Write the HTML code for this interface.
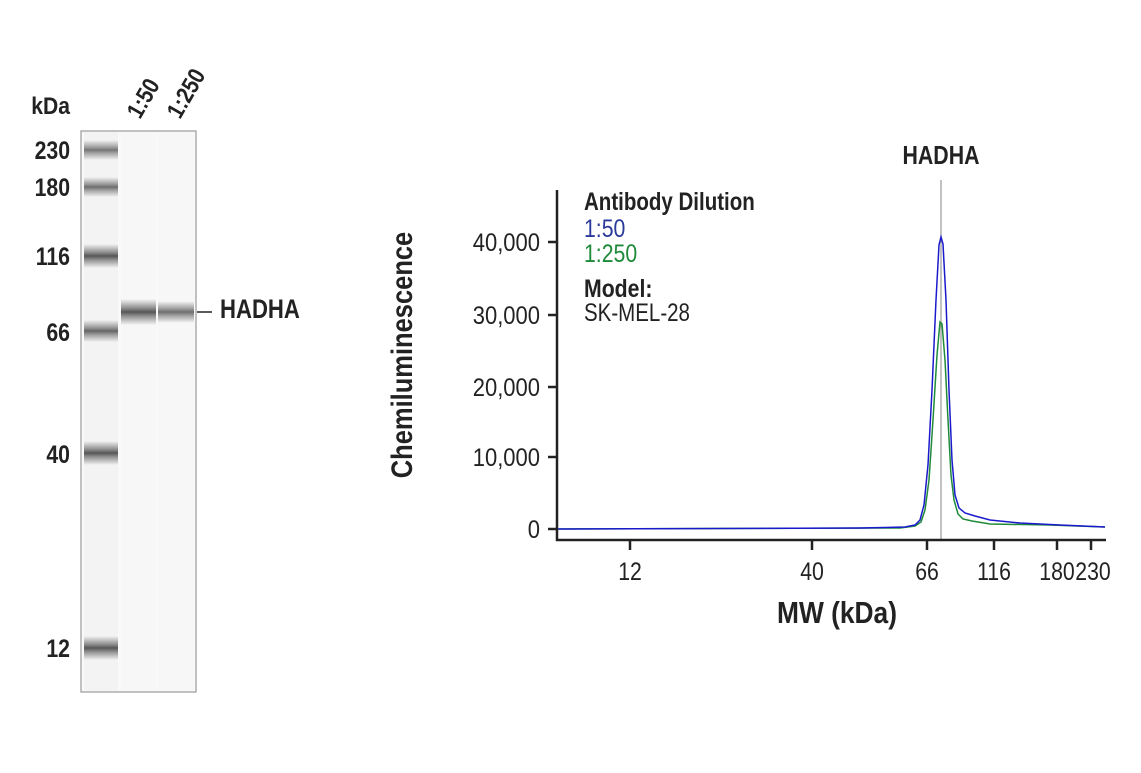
<!DOCTYPE html>
<html><head><style>
body{margin:0;background:#fff;width:1141px;height:768px;overflow:hidden}
</style></head><body>
<svg width="1141" height="768" xmlns="http://www.w3.org/2000/svg" font-family="Liberation Sans, sans-serif">
<defs>
<linearGradient id="b" x1="0" y1="0" x2="0" y2="1">
<stop offset="0" stop-color="#777" stop-opacity="0"/><stop offset="0.3" stop-color="#777" stop-opacity="0.7"/><stop offset="0.5" stop-color="#555"/><stop offset="0.7" stop-color="#777" stop-opacity="0.7"/><stop offset="1" stop-color="#777" stop-opacity="0"/>
</linearGradient>
</defs>
<rect x="81" y="131" width="115" height="561" fill="#f9f9f9" stroke="#999" stroke-width="1.2"/>
<rect x="84" y="132" width="34" height="559" fill="#f3f3f3"/>
<rect x="121" y="132" width="35" height="559" fill="#f7f7f7"/>
<rect x="158" y="132" width="36" height="559" fill="#f7f7f7"/>
<g fill="url(#b)">
<rect x="84" y="140" width="34" height="20" opacity="0.8"/>
<rect x="84" y="177" width="34" height="20" opacity="0.85"/>
<rect x="84" y="244" width="34" height="24"/>
<rect x="84" y="320" width="34" height="22" opacity="0.9"/>
<rect x="84" y="441" width="34" height="24"/>
<rect x="84" y="636" width="34" height="24"/>
<rect x="121" y="299" width="35" height="26"/>
<rect x="158" y="301" width="36" height="22" opacity="0.85"/>
</g>
<g font-weight="bold" font-size="25" fill="#222" text-anchor="end">
<g transform="translate(70,114) scale(.88,1)"><text font-size="24">kDa</text></g>
<g transform="translate(70,159) scale(.85,1)"><text>230</text></g>
<g transform="translate(70,196) scale(.85,1)"><text>180</text></g>
<g transform="translate(70,265) scale(.85,1)"><text>116</text></g>
<g transform="translate(70,341) scale(.85,1)"><text>66</text></g>
<g transform="translate(70,463) scale(.85,1)"><text>40</text></g>
<g transform="translate(70,657) scale(.85,1)"><text>12</text></g>
</g>
<g font-weight="bold" font-size="24" fill="#222">
<g transform="translate(140,120) rotate(-60) scale(.85,1)"><text>1:50</text></g>
<g transform="translate(180,120) rotate(-60) scale(.85,1)"><text>1:250</text></g>
<g transform="translate(220,318) scale(.82,1)"><text font-size="27">HADHA</text></g>
</g>
<line x1="197" y1="312" x2="212" y2="312" stroke="#222" stroke-width="1.5"/>
<line x1="941" y1="180" x2="941" y2="540" stroke="#999" stroke-width="1.2"/>
<g transform="translate(941,164) scale(.82,1)"><text text-anchor="middle" font-weight="bold" font-size="26" fill="#222">HADHA</text></g>
<line x1="557" y1="190" x2="557" y2="541" stroke="#222" stroke-width="2.5"/>
<line x1="556" y1="540" x2="1106" y2="540" stroke="#222" stroke-width="2.5"/>
<g stroke="#222" stroke-width="2.5">
<line x1="548" y1="529" x2="557" y2="529"/><line x1="548" y1="457" x2="557" y2="457"/>
<line x1="548" y1="387" x2="557" y2="387"/><line x1="548" y1="315" x2="557" y2="315"/>
<line x1="548" y1="242" x2="557" y2="242"/>
<line x1="630" y1="540" x2="630" y2="550"/><line x1="812" y1="540" x2="812" y2="550"/>
<line x1="927" y1="540" x2="927" y2="550"/><line x1="994" y1="540" x2="994" y2="550"/>
<line x1="1057" y1="540" x2="1057" y2="550"/><line x1="1091" y1="540" x2="1091" y2="550"/>
</g>
<g font-size="25" fill="#222" text-anchor="end">
<g transform="translate(540,538) scale(.88,1)"><text>0</text></g>
<g transform="translate(540,466) scale(.88,1)"><text>10,000</text></g>
<g transform="translate(540,396) scale(.88,1)"><text>20,000</text></g>
<g transform="translate(540,324) scale(.88,1)"><text>30,000</text></g>
<g transform="translate(540,251) scale(.88,1)"><text>40,000</text></g>
</g>
<g font-size="25" fill="#222" text-anchor="middle">
<g transform="translate(630,580) scale(.85,1)"><text>12</text></g>
<g transform="translate(812,580) scale(.85,1)"><text>40</text></g>
<g transform="translate(927,580) scale(.85,1)"><text>66</text></g>
<g transform="translate(994,580) scale(.85,1)"><text>116</text></g>
<g transform="translate(1057,580) scale(.85,1)"><text>180</text></g>
<g transform="translate(1093,580) scale(.85,1)"><text>230</text></g>
</g>
<g transform="translate(837,623) scale(.85,1)"><text text-anchor="middle" font-weight="bold" font-size="31" fill="#222">MW (kDa)</text></g>
<g transform="translate(412,355) rotate(-90) scale(.85,1)"><text text-anchor="middle" font-weight="bold" font-size="30" fill="#222">Chemiluminescence</text></g>
<g font-size="25">
<g transform="translate(584,210) scale(.82,1)"><text font-weight="bold" fill="#222">Antibody Dilution</text></g>
<g transform="translate(584,237) scale(.85,1)"><text fill="#2b3a9a">1:50</text></g>
<g transform="translate(584,262) scale(.85,1)"><text fill="#1f8a3a">1:250</text></g>
<g transform="translate(584,297) scale(.85,1)"><text font-weight="bold" fill="#222">Model:</text></g>
<g transform="translate(584,321) scale(.82,1)"><text fill="#222">SK-MEL-28</text></g>
</g>
<path d="M558,529 L900,528 L915,526 L921,522 L925,510 L929,480 L933,420 L937,355 L940,322 L942,324 L945,360 L948,420 L951,475 L954,500 L958,514 L963,519 L972,521 L990,524 L1050,525 L1105,527" fill="none" stroke="#1f8a3a" stroke-width="1.5"/>
<path d="M558,529 L860,528 L905,527 L915,525 L920,520 L924,505 L928,465 L932,390 L936,300 L939,245 L941,237 L943,244 L946,300 L949,390 L952,460 L955,495 L959,508 L965,513 L975,516 L990,520 L1020,523 L1060,525 L1105,527" fill="none" stroke="#1a1acc" stroke-width="1.5"/>
</svg>
</body></html>
